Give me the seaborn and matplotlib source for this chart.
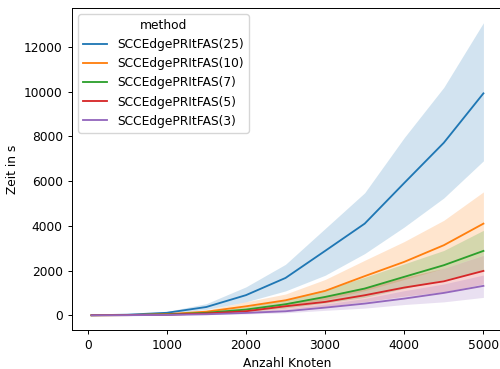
import matplotlib
matplotlib.use("Agg")
import matplotlib.pyplot as plt
import seaborn as sns
import pandas as pd

nodes = [50, 500, 1000, 1500, 2000, 2500, 3000, 3500, 4000, 4500, 5000]
methods = ["SCCEdgePRItFAS(25)", "SCCEdgePRItFAS(10)", "SCCEdgePRItFAS(7)",
           "SCCEdgePRItFAS(5)", "SCCEdgePRItFAS(3)"]

mid_25 = [2, 25, 110, 370, 900, 1670, 2880, 4100, 5920, 7720, 9930]
up_25 = [4, 40, 170, 520, 1270, 2280, 3880, 5480, 7950, 10200, 13090]
lo_25 = [1, 15, 70, 260, 600, 1090, 1790, 2760, 3950, 5250, 6910]

mid_10 = [1, 10, 50, 160, 400, 670, 1090, 1750, 2390, 3135, 4100]
up_10 = [2, 15, 75, 240, 600, 950, 1600, 2460, 3300, 4250, 5520]
lo_10 = [0.5, 6, 30, 100, 250, 430, 700, 1100, 1600, 2100, 2700]

mid_7 = [1, 8, 35, 110, 255, 493, 820, 1195, 1720, 2240, 2880]
up_7 = [1.5, 12, 55, 170, 380, 700, 1150, 1700, 2300, 2900, 3800]
lo_7 = [0.5, 5, 20, 70, 170, 320, 550, 800, 1200, 1600, 2000]

mid_5 = [0.5, 5, 25, 80, 180, 403, 597, 895, 1240, 1520, 1985]
up_5 = [1, 8, 40, 120, 280, 550, 850, 1250, 1700, 2100, 2690]
lo_5 = [0.3, 3, 15, 50, 120, 260, 400, 600, 850, 1050, 1400]

mid_3 = [0.3, 3, 15, 45, 105, 180, 343, 522, 746, 1000, 1315]
up_3 = [0.5, 5, 25, 70, 170, 280, 500, 750, 1100, 1400, 1800]
lo_3 = [0.1, 2, 8, 25, 60, 110, 220, 320, 480, 600, 800]

series = {
    methods[0]: (lo_25, mid_25, up_25),
    methods[1]: (lo_10, mid_10, up_10),
    methods[2]: (lo_7, mid_7, up_7),
    methods[3]: (lo_5, mid_5, up_5),
    methods[4]: (lo_3, mid_3, up_3),
}

rows = []
for m, arrs in series.items():
    for arr in arrs:
        for x, v in zip(nodes, arr):
            rows.append({"Anzahl Knoten": x, "Zeit in s": v, "method": m})
df = pd.DataFrame(rows)

s = 0.88
plt.rcParams.update({
    "font.size": 10 * s,
    "axes.linewidth": 0.8 * s,
    "xtick.major.size": 3.5 * s,
    "ytick.major.size": 3.5 * s,
    "xtick.major.width": 0.8 * s,
    "ytick.major.width": 0.8 * s,
    "lines.linewidth": 1.5 * s,
    "axes.labelpad": 4.0 * s,
})

fig = plt.figure(figsize=(5, 3.69), dpi=100)
ax = fig.add_axes([0.144, 0.106, 0.862, 0.872])
sns.lineplot(data=df, x="Anzahl Knoten", y="Zeit in s", hue="method",
             hue_order=methods, estimator="median", errorbar=("pi", 100),
             palette="tab10", err_kws={"linewidth": 0}, ax=ax)
ax.legend(title="method", loc="upper left")
ax.set_xticks([0, 1000, 2000, 3000, 4000, 5000])
fig.savefig("out.png", dpi=100)
